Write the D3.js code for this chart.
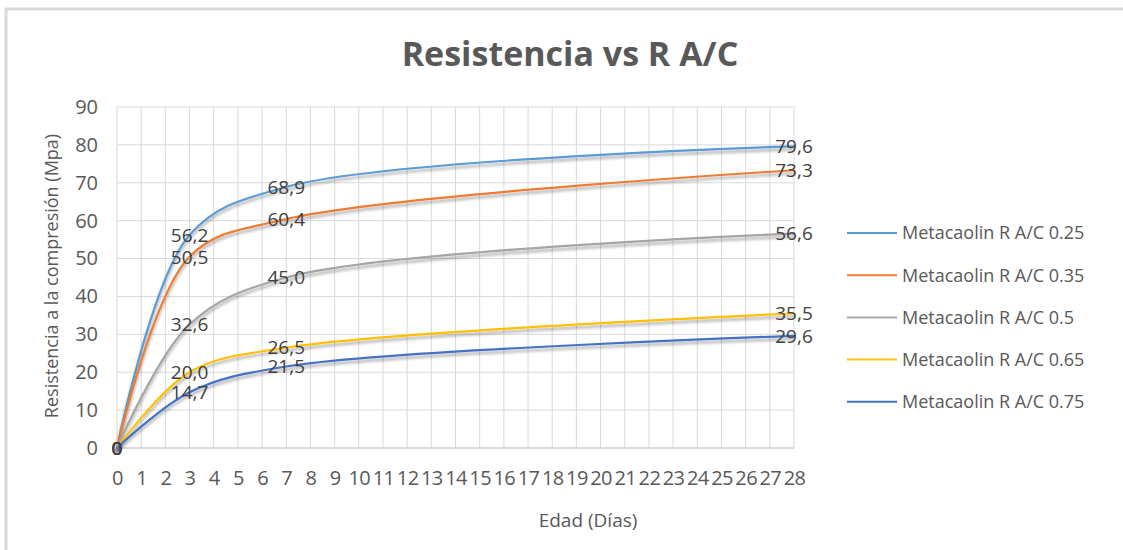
<!DOCTYPE html>
<html>
<head>
<meta charset="utf-8">
<script src="https://cdn.jsdelivr.net/npm/d3@7"></script>
<style>
  html, body { margin: 0; padding: 0; background: #fff; }
  svg { display: block; }
  text { font-family: "Open Sans", "Noto Sans", sans-serif; }
</style>
</head>
<body>
<svg id="chart" width="1123" height="550"></svg>
<script>
// ---- data ----
const dayCategories = [0,1,2,3,4,5,6,7,8,9,10,11,12,13,14,15,16,17,18,19,20,21,22,23,24,25,26,27,28];
const measuredDays = [0, 3, 7, 28];
const seriesNames = ["Metacaolin R A/C 0.25", "Metacaolin R A/C 0.35", "Metacaolin R A/C 0.5", "Metacaolin R A/C 0.65", "Metacaolin R A/C 0.75"];
const ac025 = [0, 56.2, 68.9, 79.6];
const ac035 = [0, 50.5, 60.4, 73.3];
const ac050 = [0, 32.6, 45.0, 56.6];
const ac065 = [0, 20.0, 26.5, 35.5];
const ac075 = [0, 14.7, 21.5, 29.6];
const yTicks = [0, 10, 20, 30, 40, 50, 60, 70, 80, 90];
const seriesColors = ["#5B9BD5", "#ED7D31", "#A5A5A5", "#FFC000", "#4472C4"];

const seriesValues = [ac025, ac035, ac050, ac065, ac075];
const series = seriesNames.map((name, i) => ({
  name, color: seriesColors[i],
  points: measuredDays.map((d, j) => ({ day: d, value: seriesValues[i][j] }))
}));

const svg = d3.select("#chart");
const W = 1123, H = 550;
svg.append("rect").attr("width", W).attr("height", H).attr("fill", "#fff");
// outer chart frame (partially visible)
svg.append("rect").attr("x", 6).attr("y", 9).attr("width", W + 20).attr("height", H + 20)
  .attr("fill", "none").attr("stroke", "#d9d9d9").attr("stroke-width", 3);

const defs = svg.append("defs");
const f = defs.append("filter").attr("id", "shadow").attr("x", "-5%").attr("y", "-20%").attr("width", "110%").attr("height", "140%");
f.append("feDropShadow").attr("dx", 0).attr("dy", 3).attr("stdDeviation", 1.6)
  .attr("flood-color", "#000").attr("flood-opacity", 0.35);

const plot = { left: 117, right: 794, top: 107, bottom: 448 };
const x = d3.scalePoint().domain(dayCategories).range([plot.left, plot.right]);
const y = d3.scaleLinear().domain([0, 90]).range([plot.bottom, plot.top]);

// gridlines
const grid = svg.append("g");
grid.selectAll("line.h").data(yTicks).join("line")
  .attr("x1", plot.left).attr("x2", plot.right)
  .attr("y1", d => y(d)).attr("y2", d => y(d))
  .attr("stroke", "#d9d9d9").attr("stroke-width", 1);
grid.selectAll("line.v").data(dayCategories).join("line")
  .attr("x1", d => x(d)).attr("x2", d => x(d))
  .attr("y1", plot.top).attr("y2", plot.bottom)
  .attr("stroke", "#d9d9d9").attr("stroke-width", 1);
svg.append("line").attr("x1", plot.left).attr("x2", plot.right)
  .attr("y1", plot.bottom).attr("y2", plot.bottom).attr("stroke", "#c8c8c8").attr("stroke-width", 1.2);

// y axis labels
const yAxis = d3.axisLeft(y).tickValues(yTicks).tickSize(0).tickPadding(0).tickFormat(d3.format("d"));
const yg = svg.append("g").attr("transform", `translate(${plot.left - 19},0)`).call(yAxis);
yg.select(".domain").remove();
yg.selectAll("text").attr("font-size", 20).attr("fill", "#595959")
  .attr("font-family", "'Open Sans', sans-serif");

// x axis labels
const xAxis = d3.axisBottom(x).tickSize(0).tickPadding(0);
const xg = svg.append("g").attr("transform", `translate(0,${plot.bottom + 23})`).call(xAxis);
xg.select(".domain").remove();
xg.selectAll("text").attr("font-size", 20).attr("fill", "#595959")
  .attr("font-family", "'Open Sans', sans-serif")
  .attr("letter-spacing", -0.6);

// lines
const line = d3.line().x(d => x(d.day)).y(d => y(d.value)).curve(d3.curveCatmullRom.alpha(0.5));
svg.append("g").selectAll("path").data(series).join("path")
  .attr("d", d => line(d.points))
  .attr("fill", "none").attr("stroke", d => d.color).attr("stroke-width", 2.2)
  .attr("stroke-linecap", "round").attr("filter", "url(#shadow)");

// data labels
const fmt = v => v === 0 ? "0" : v.toFixed(1).replace(".", ",");
const lg = svg.append("g");
series.forEach(s => {
  lg.selectAll(null).data(s.points).join("text")
    .attr("x", d => x(d.day)).attr("y", d => y(d.value))
    .attr("dy", "0.36em").attr("text-anchor", "middle")
    .attr("font-size", 19).attr("fill", "#404040")
    .text(d => fmt(d.value));
});

// title
svg.append("text").attr("x", 570).attr("y", 66).attr("text-anchor", "middle")
  .attr("font-size", 34).attr("font-weight", "bold").attr("fill", "#595959")
  .text("Resistencia vs R A/C");

// axis titles
svg.append("text").attr("x", 588).attr("y", 527).attr("text-anchor", "middle")
  .attr("font-size", 19).attr("fill", "#595959").text("Edad (Días)");
svg.append("text").attr("transform", "translate(58,276) rotate(-90)").attr("text-anchor", "middle")
  .attr("font-size", 18).attr("fill", "#595959").text("Resistencia a la compresión (Mpa)");

// legend
const legend = svg.append("g");
const lgRow = legend.selectAll("g").data(series).join("g")
  .attr("transform", (d, i) => `translate(847,${233 + i * 42.2})`);
lgRow.append("line").attr("x1", 0).attr("x2", 50).attr("y1", 0).attr("y2", 0)
  .attr("stroke", d => d.color).attr("stroke-width", 2);
lgRow.append("text").attr("x", 55).attr("y", 0).attr("dy", "0.35em")
  .attr("font-size", 18).attr("fill", "#595959").text(d => d.name);
</script>
</body>
</html>
